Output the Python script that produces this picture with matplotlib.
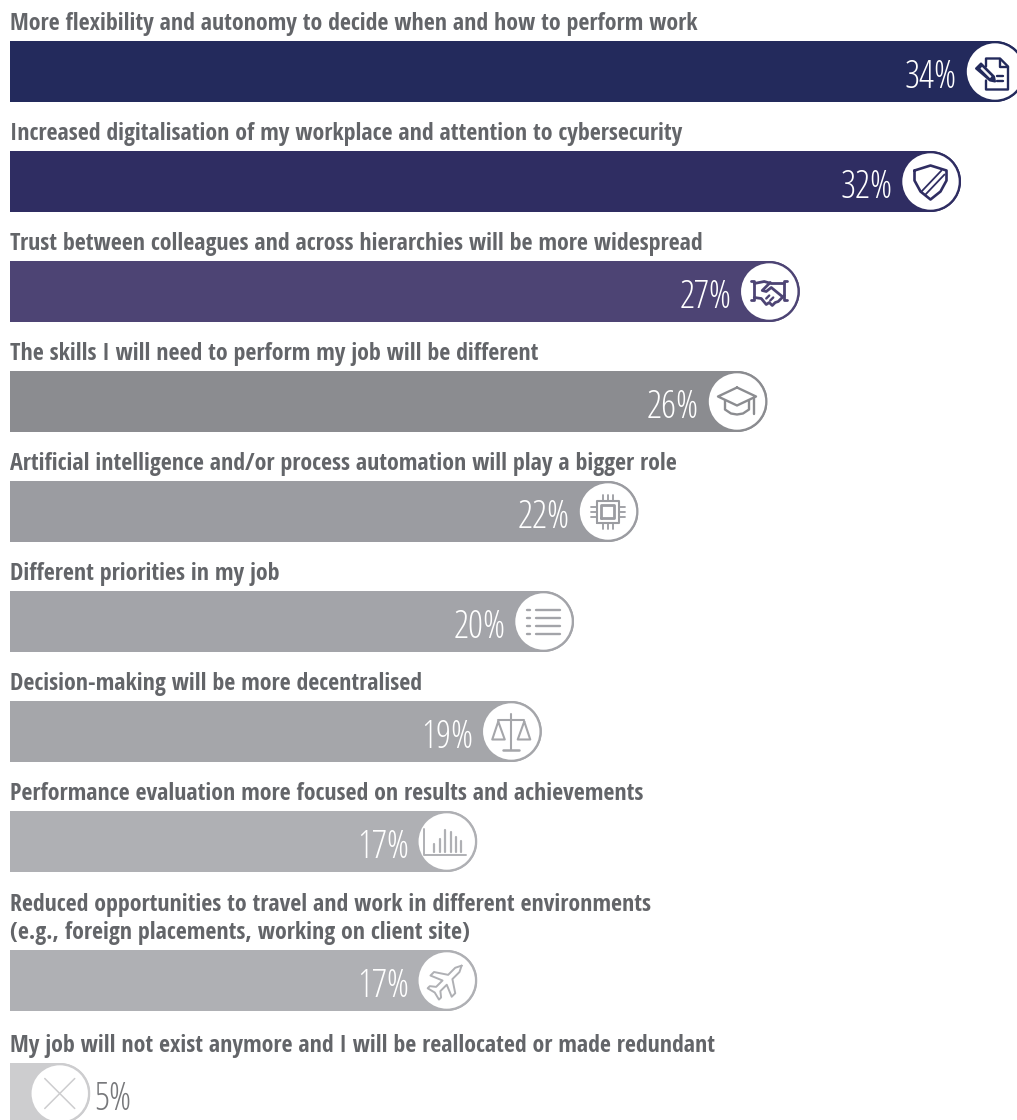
import numpy as np
import matplotlib
matplotlib.use("Agg")
import matplotlib.pyplot as plt
from matplotlib.font_manager import FontProperties
from matplotlib.lines import Line2D
from matplotlib.patches import Circle, Polygon
from matplotlib.path import Path
from matplotlib.transforms import Affine2D, IdentityTransform

labels = [
    "More flexibility and autonomy to decide when and how to perform work",
    "Increased digitalisation of my workplace and attention to cybersecurity",
    "Trust between colleagues and across hierarchies will be more widespread",
    "The skills I will need to perform my job will be different",
    "Artificial intelligence and/or process automation will play a bigger role",
    "Different priorities in my job",
    "Decision-making will be more decentralised",
    "Performance evaluation more focused on results and achievements",
    "Reduced opportunities to travel and work in different environments\n(e.g., foreign placements, working on client site)",
    "My job will not exist anymore and I will be reallocated or made redundant",
]
values = [34, 32, 27, 26, 22, 20, 19, 17, 17, 5]
colors = ["#232A5C", "#2F2D62", "#4D4474", "#8B8C90", "#9B9CA1",
          "#A3A4A9", "#A5A6AA", "#AFB0B4", "#AFB0B4", "#CDCDCF"]
icons = ["document", "shield", "handshake", "cap", "chip",
         "list", "scales", "columns", "plane", "cross"]

W, H = 1017, 1120
BAR_H = 61
RADIUS = BAR_H / 2
gaps = [49, 49, 49, 49, 49, 49, 49, 78, 52]
tops = np.cumsum([41] + [BAR_H + g for g in gaps])

# bar ends sit on a linear scale whose origin lies off the left edge
PX_PER_PCT = 32.25
ORIGIN_PX = -71
LEFT_PX = 10
x_min = (LEFT_PX - ORIGIN_PX) / PX_PER_PCT
x_max = (W - ORIGIN_PX) / PX_PER_PCT

fig = plt.figure(figsize=(W / 100, H / 100), dpi=100, facecolor="white")
ax = fig.add_axes([LEFT_PX / W, 0, 1 - LEFT_PX / W, 1])
ax.set_xlim(x_min, x_max)
ax.set_ylim(H, 0)
ax.axis("off")

label_font = FontProperties(family="Open Sans Condensed", weight=700, size=17.2)
value_font = FontProperties(family="Open Sans", weight=300, stretch="condensed", size=27)


def stroke(tr, clip, pts, color, lw=1.5, closed=False, fill=None):
    """Draw one icon outline given in pixel offsets from the badge centre."""
    pts = np.asarray(pts, float)
    if fill is not None:
        artist = Polygon(pts, closed=True, facecolor=fill, edgecolor=color,
                         linewidth=lw, transform=tr, joinstyle="round", zorder=6)
        ax.add_patch(artist)
    else:
        if closed:
            pts = np.vstack([pts, pts[0]])
        artist = Line2D(pts[:, 0], pts[:, 1], color=color, linewidth=lw,
                        transform=tr, solid_capstyle="round",
                        solid_joinstyle="round", zorder=6)
        ax.add_line(artist)
    artist.set_clip_path(clip)


def icon_document(tr, clip, c):
    stroke(tr, clip, [(-9, 5), (-9, 13), (5, 13), (13, 5), (13, -18), (-9, -18), (-9, -9)], c, lw=1.7)
    stroke(tr, clip, [(5, 13), (5, 5), (13, 5)], c, lw=1.7)
    stroke(tr, clip, [(2, -4), (8, -4)], c, lw=1.7)
    stroke(tr, clip, [(2, -9), (8, -9)], c, lw=1.7)
    stroke(tr, clip, [(-19, 3), (-14, 8), (-1, -5), (0, -10), (-5, -9)], c, fill=c)
    stroke(tr, clip, [(-14, 3), (-13, 4), (-4, -5), (-5, -6)], "white", lw=0.6, fill="white")


def icon_shield(tr, clip, c):
    stroke(tr, clip, [(-16, 11), (0, 16), (16, 11), (16, 1), (10, -10), (0, -18),
                      (-10, -10), (-16, 1)], c, lw=1.9, closed=True)
    stroke(tr, clip, [(-9, -10), (11, 11)], c, lw=1.3)
    stroke(tr, clip, [(-5, -13), (14, 7)], c, lw=1.3)


def icon_handshake(tr, clip, c):
    stroke(tr, clip, [(-18, 11), (-15, 11), (-15, -8), (-18, -8)], c, lw=2)
    stroke(tr, clip, [(18, 11), (15, 11), (15, -8), (18, -8)], c, lw=2)
    stroke(tr, clip, [(-15, 8), (-5, 10), (2, 8), (15, 8)], c, lw=2)
    stroke(tr, clip, [(-15, -6), (-8, -7), (-3, -13), (0, -11), (3, -14), (6, -11),
                      (9, -10), (15, -4)], c, lw=2)
    stroke(tr, clip, [(1, 9), (-7, 1), (-3, 0), (2, 4), (13, -5)], c, lw=2)
    stroke(tr, clip, [(-3, -7), (0, -4)], c, lw=1.7)
    stroke(tr, clip, [(1, -9), (4, -6)], c, lw=1.7)


def icon_cap(tr, clip, c):
    stroke(tr, clip, [(0, 14), (-19, 5), (0, -4), (19, 5)], c, lw=1.7, closed=True)
    stroke(tr, clip, [(-12, 1), (-12, -8), (-6, -12), (0, -13), (6, -12), (12, -8), (12, 1)], c, lw=1.7)
    stroke(tr, clip, [(17, 4), (17, -12)], c, lw=1.7)


def icon_chip(tr, clip, c):
    stroke(tr, clip, [(-11, -11), (11, -11), (11, 11), (-11, 11)], c, closed=True)
    stroke(tr, clip, [(-6.5, -6.5), (6.5, -6.5), (6.5, 6.5), (-6.5, 6.5)], c, lw=2, closed=True)
    for k in (-5, 0, 5):
        stroke(tr, clip, [(k, 11), (k, 17)], c, lw=1.3)
        stroke(tr, clip, [(k, -11), (k, -17)], c, lw=1.3)
        stroke(tr, clip, [(11, k), (17, k)], c, lw=1.3)
        stroke(tr, clip, [(-11, k), (-17, k)], c, lw=1.3)


def icon_list(tr, clip, c):
    for y in (12, 4, -4, -12):
        stroke(tr, clip, [(-7.5, y), (17, y)], c, lw=1.7)
        stroke(tr, clip, [(-16, y), (-13, y)], c, lw=1.7)


def icon_scales(tr, clip, c):
    stroke(tr, clip, [(0, 18), (0, -18)], c)
    stroke(tr, clip, [(-8, -18), (8, -18)], c, lw=1.8)
    stroke(tr, clip, [(-13, 12), (13, 12)], c)
    stroke(tr, clip, [(-13, 10), (-19, -8), (-6.5, -8)], c, closed=True)
    stroke(tr, clip, [(13, 10), (6.5, -8), (19, -8)], c, closed=True)


def icon_columns(tr, clip, c):
    stroke(tr, clip, [(-23, 13), (-23, -13.5), (19.5, -13.5)], c, lw=1.4)
    for x, y in zip((-13, -7, -1.5, 4.5, 9.5, 14.5), (-2, 3, 12, 10, 5, 1)):
        stroke(tr, clip, [(x, -10), (x, y)], c, lw=1.6)


def icon_plane(tr, clip, c):
    half = [(21, 0), (15, 3), (5, 3), (-3, 15), (-8, 15), (-3, 3), (-12, 3), (-16, 8), (-19, 8), (-17, 0)]
    pts = half + [(x, -y) for x, y in half[-2:0:-1]]
    rot = Affine2D().rotate_deg(45)
    stroke(tr, clip, rot.transform(np.array(pts, float)), c, lw=1.4, closed=True)


def icon_cross(tr, clip, c):
    stroke(tr, clip, [(-15, 15), (15, -15)], c, lw=1.1)
    stroke(tr, clip, [(-15, -15), (15, 15)], c, lw=1.1)


icon_painters = {"document": icon_document, "shield": icon_shield, "handshake": icon_handshake,
                 "cap": icon_cap, "chip": icon_chip, "list": icon_list, "scales": icon_scales,
                 "columns": icon_columns, "plane": icon_plane, "cross": icon_cross}

fig.canvas.draw()
for label, value, color, icon, top in zip(labels, values, colors, icons, tops):
    centre = top + BAR_H / 2
    bar = ax.barh(centre, value, height=BAR_H, color=color, linewidth=0, zorder=2)[0]

    # badge centre, in display pixels, one radius inside the bar end
    x_end, y_mid = ax.transData.transform((value, centre))
    cx = x_end - RADIUS
    theta = np.linspace(np.pi / 2, -np.pi / 2, 60)
    outline = np.column_stack([cx + RADIUS * np.cos(theta), y_mid + RADIUS * np.sin(theta)])
    outline = np.vstack([[LEFT_PX, y_mid - RADIUS], [LEFT_PX, y_mid + RADIUS], outline,
                         [LEFT_PX, y_mid - RADIUS]])
    bar.set_clip_path(Path(outline), IdentityTransform())

    badge_tr = Affine2D().translate(cx, y_mid)
    ring = Circle((0, 0), RADIUS, facecolor=color, edgecolor="none", transform=badge_tr, zorder=3)
    disc = Circle((0, 0), RADIUS - 2.3, facecolor="white", edgecolor="none", transform=badge_tr, zorder=4)
    ax.add_patch(ring)
    ax.add_patch(disc)
    icon_painters[icon](badge_tr, ax.patch, color)

    ax.text(x_min, top - 11, label, fontproperties=label_font,
            color="#636569", ha="left", va="baseline", linespacing=1.22)

    inside = value >= 10
    ax.annotate(f"{value}%", (value, centre), xytext=(-68.5 if inside else 3.5, -1.5),
                textcoords="offset pixels", annotation_clip=False,
                ha="right" if inside else "left", va="center_baseline",
                color="white" if inside else "#77787B",
                fontproperties=value_font, zorder=5)

fig.savefig("out.png", dpi=100)
